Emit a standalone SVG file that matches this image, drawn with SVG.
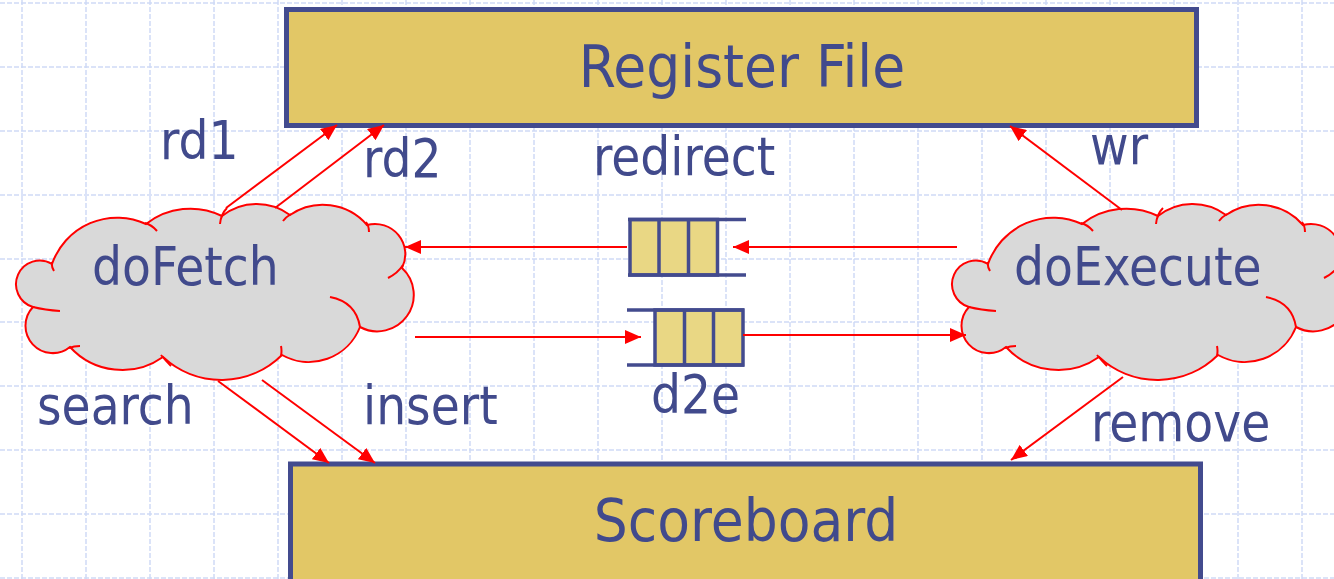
<svg xmlns="http://www.w3.org/2000/svg" xmlns:xlink="http://www.w3.org/1999/xlink" width="1334" height="579" viewBox="0 0 1334 579">
<style>
.grid{fill:none;stroke:#cfdaf6;stroke-width:1.5;stroke-dasharray:5 2}
.box{fill:#e2c766;stroke:#434b8e;stroke-width:5}
.q{fill:#e9d784;stroke:#434b8e;stroke-width:3.5}
.qline{fill:none;stroke:#434b8e;stroke-width:3.5}
.cloud{fill:#d9d9d9;stroke:#ff0000;stroke-width:2}
.tail{fill:none;stroke:#ff0000;stroke-width:2}
.conn{fill:none;stroke:#ff0000;stroke-width:2;marker-end:url(#ah)}
.lbl{fill:#414a8c;font-family:'DejaVu Sans Condensed','DejaVu Sans',sans-serif;font-size:52.5px}
.big{font-size:59.5px;text-anchor:middle}
</style>
<defs>
<marker id="ah" markerUnits="userSpaceOnUse" markerWidth="16" markerHeight="14" refX="16" refY="7" orient="auto">
<path d="M0,0 L16,7 L0,14 z" fill="#ff0000"/>
</marker>
<g id="cloudShape">
<path class="cloud" d="M52,264 A69,69 0 0 1 146,224 A72,72 0 0 1 222,216 A56,56 0 0 1 290,215 A58.3,58.3 0 0 1 367,225 A30.3,30.3 0 0 1 402,268 A36.5,36.5 0 0 1 360,327 A55,55 0 0 1 282,355 A86,86 0 0 1 163,357 A70.6,70.6 0 0 1 70,347 A27.3,27.3 0 0 1 33,307 A23.7,23.7 0 1 1 52,264 Z"/>
<path class="tail" d="M52,262 Q51,266 54,271 M145,223 Q152,225 157,231 M220,224 Q221,214 227,208 M283,221 Q286,217 291,214 M366,222 Q369,226 369,232 M403,265 Q398,273 388,278 M330,297 Q356,302 360,327 M281,346 Q282,351 281,356 M161,355 Q165,360 171,366 M69,348 Q74,346 80,346 M33,307 Q45,310 60,311"/>
</g>
</defs>
<rect width="1334" height="579" fill="#ffffff"/>
<g id="grid">
<path class="grid" d="M22,0V579 M86,0V579 M150,0V579 M214,0V579 M278,0V579 M342,0V579 M406,0V579 M470,0V579 M534,0V579 M598,0V579 M662,0V579 M726,0V579 M790,0V579 M854,0V579 M918,0V579 M982,0V579 M1046,0V579 M1110,0V579 M1174,0V579 M1238,0V579 M1302,0V579 M0,3H1334 M0,67H1334 M0,131H1334 M0,195H1334 M0,259H1334 M0,322H1334 M0,386H1334 M0,450H1334 M0,514H1334 M0,578H1334"/>
</g>
<g id="regfile">
<rect class="box" x="286.5" y="9.5" width="910" height="116"/>
<text class="lbl big" x="742" y="87">Register File</text>
</g>
<g id="scoreboard">
<rect class="box" x="290.5" y="464" width="910" height="140"/>
<text class="lbl big" x="746" y="541">Scoreboard</text>
</g>
<g id="doFetch">
<use xlink:href="#cloudShape"/>
<text class="lbl" x="92" y="285">doFetch</text>
</g>
<g id="doExecute">
<use xlink:href="#cloudShape" transform="translate(936,0)"/>
<text class="lbl" x="1014" y="285">doExecute</text>
</g>
<g id="redirectQ">
<rect class="q" x="630" y="219.5" width="87.5" height="55.5"/>
<path class="qline" d="M659,219.5V275 M688.5,219.5V275 M628,219.5H746 M628,275H746"/>
</g>
<g id="d2eQ">
<rect class="q" x="655" y="310" width="88" height="55"/>
<path class="qline" d="M684.5,310V365 M713.5,310V365 M627,310H744 M627,365H744"/>
</g>
<g id="connectors">
<path class="conn" d="M226,208 L337,125"/>
<path class="conn" d="M275,208 L384,125"/>
<path class="conn" d="M1122,210 L1010,126"/>
<path class="conn" d="M957,247 L733,247"/>
<path class="conn" d="M627,247 L405,247"/>
<path class="conn" d="M415,337 L641,337"/>
<path class="conn" d="M743,335 L966,335"/>
<path class="conn" d="M218,381 L329,463"/>
<path class="conn" d="M262,380 L375,463"/>
<path class="conn" d="M1123,377 L1011,460"/>
</g>
<g id="labels">
<text class="lbl" x="160" y="159">rd1</text>
<text class="lbl" x="363" y="177">rd2</text>
<text class="lbl" x="593" y="175">redirect</text>
<text class="lbl" x="1090" y="164">wr</text>
<text class="lbl" x="37" y="424">search</text>
<text class="lbl" x="363" y="424">insert</text>
<text class="lbl" x="651" y="413">d2e</text>
<text class="lbl" x="1091" y="441">remove</text>
</g>
</svg>
